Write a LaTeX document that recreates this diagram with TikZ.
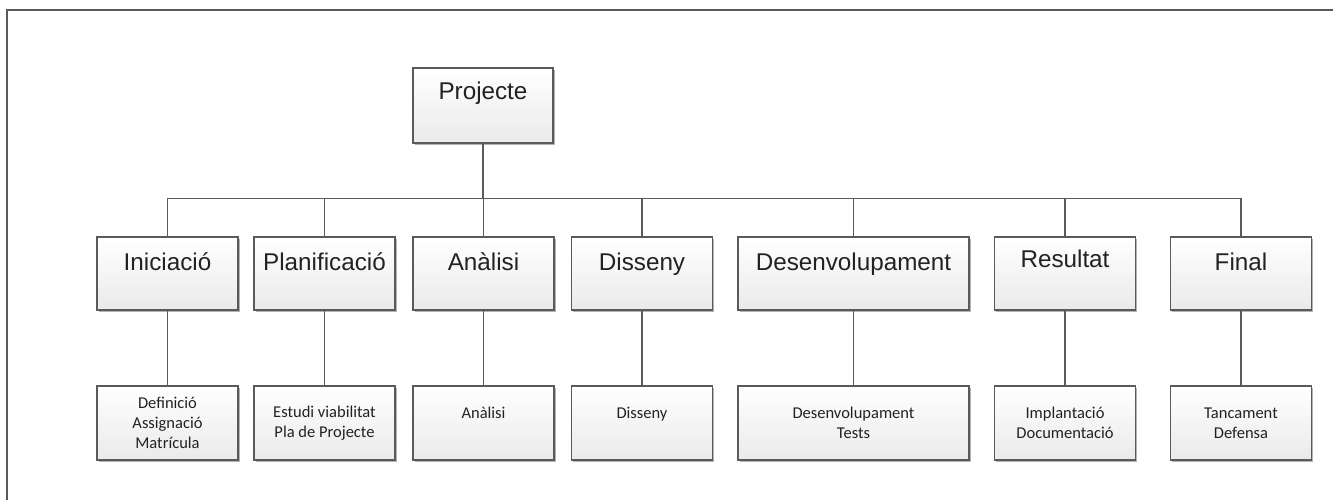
\documentclass[tikz,border=0pt]{standalone}
\usepackage{fontspec}
\setmainfont{Liberation Sans}
\newfontfamily\tasksfont{Carlito}
\usetikzlibrary{shadows}
\newcommand\pxu{0.02cm}
\definecolor{linegray}{HTML}{5A5A5A}
\definecolor{boxbottom}{HTML}{EAEAEA}
\definecolor{textgray}{HTML}{222222}
\tikzset{
	box/.style={draw=linegray, line width=1.5*\pxu, top color=white, bottom color=boxbottom,
		drop shadow={shadow xshift=1.5*\pxu, shadow yshift=-2*\pxu, fill=gray, opacity=0.6},
		inner sep=0pt, align=center},
	phase/.style={box, minimum width=141*\pxu, minimum height=73*\pxu, text=textgray,
		font=\fontsize{13.8}{16}\selectfont, text height=11.3pt, text depth=14.6pt},
	task/.style={box, minimum width=141*\pxu, minimum height=74*\pxu, text=textgray,
		font=\tasksfont\fontsize{9.4}{11.3}\selectfont},
	oneline/.style={text height=6.8pt, text depth=12.25pt},
	link/.style={draw=linegray, line width=1.1*\pxu}
}
\begin{document}
\begin{tikzpicture}[x=0.02cm, y=-0.02cm]
	\useasboundingbox (0,0) rectangle (1333,500);
	
	\draw[linegray, line width=1.5*\pxu] (7,500) -- (7,10) -- (1333,10);
	
	\node[phase, minimum width=140*\pxu, minimum height=75*\pxu, text height=11.3pt, text depth=18pt] (proj) at (483,105.5) {Projecte};
	
	\node[phase] (ini) at (167.5,273.5) {Iniciació};
	\node[phase] (plan) at (324.5,273.5) {Planificació};
	\node[phase] (anal) at (483.5,273.5) {Anàlisi};
	\node[phase] (diss) at (642,273.5) {Disseny};
	\node[phase, minimum width=231*\pxu] (dev) at (853.5,273.5) {Desenvolupament};
	\node[phase, text depth=18pt] (res) at (1065,273.5) {Resultat};
	\node[phase] (fin) at (1241,273.5) {Final};
	
	\node[task] (iniT) at (167.5,423) {Definició\\Assignació\\Matrícula};
	\node[task] (planT) at (324.5,423) {Estudi viabilitat\\Pla de Projecte};
	\node[task, oneline] (analT) at (483.5,423) {Anàlisi};
	\node[task, oneline] (dissT) at (642,423) {Disseny};
	\node[task, minimum width=231*\pxu] (devT) at (853.5,423) {Desenvolupament\\Tests};
	\node[task] (resT) at (1065,423) {Implantació\\Documentació};
	\node[task] (finT) at (1241,423) {Tancament\\Defensa};
	
	\path (proj.south) ++(0,55) coordinate (bus);
	\draw[link] (proj.south) -- (bus);
	\draw[link] (bus) -| (ini.north);
	\draw[link] (bus) -| (plan.north);
	\draw[link] (bus) -| (anal.north);
	\draw[link] (bus) -| (diss.north);
	\draw[link] (bus) -| (dev.north);
	\draw[link] (bus) -| (res.north);
	\draw[link] (bus) -| (fin.north);
	
	\draw[link] (ini.south) -- (iniT.north);
	\draw[link] (plan.south) -- (planT.north);
	\draw[link] (anal.south) -- (analT.north);
	\draw[link] (diss.south) -- (dissT.north);
	\draw[link] (dev.south) -- (devT.north);
	\draw[link] (res.south) -- (resT.north);
	\draw[link] (fin.south) -- (finT.north);
	
\end{tikzpicture}
\end{document}
